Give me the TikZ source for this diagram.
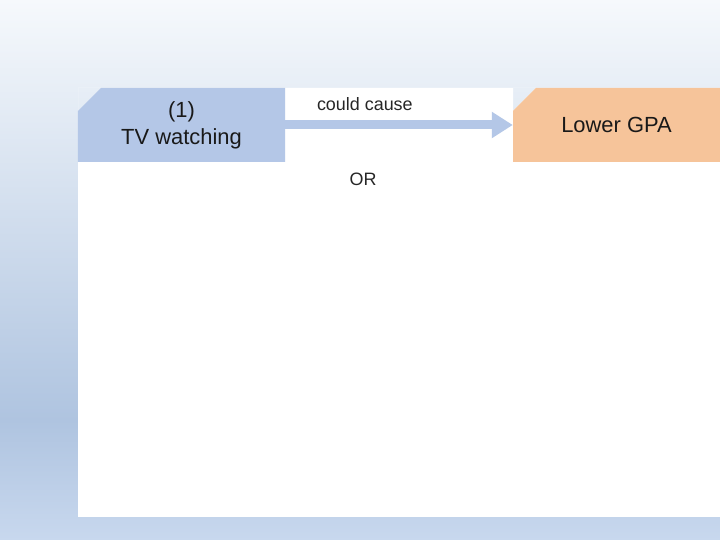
\documentclass[tikz,border=0pt]{standalone}
\usepackage{fontspec}
\setmainfont{Liberation Sans}
\usetikzlibrary{arrows.meta,positioning}
\definecolor{boxblue}{HTML}{B4C7E7}
\definecolor{boxorange}{HTML}{F6C49A}
\definecolor{bgtop}{HTML}{F6F9FC}
\definecolor{bgdeep}{HTML}{AFC4E0}
\definecolor{bgfoot}{HTML}{C8D8EE}
\tikzset{
  chambox/.style={minimum width=207bp, minimum height=74bp, inner sep=0pt,
    align=center, font=\fontsize{22}{27}\selectfont, text=black!90,
    path picture={\fill[#1] ([yshift=-23bp]path picture bounding box.north west)
      -- ([xshift=23bp]path picture bounding box.north west)
      -- (path picture bounding box.north east)
      -- (path picture bounding box.south east)
      -- (path picture bounding box.south west) -- cycle;}},
  smalltext/.style={inner sep=0pt, font=\fontsize{18}{22}\selectfont, text=black!85}
}
\begin{document}
\begin{tikzpicture}[x=1bp,y=1bp]
    \useasboundingbox (0,0) rectangle (720,540);
    % background
    \shade[bottom color=bgfoot, top color=bgdeep] (0,0) rectangle (720,120);
    \shade[bottom color=bgdeep, top color=bgtop] (0,120) rectangle (720,540);
    % white panel, with the two cut corners left open
    \fill[white, even odd rule] (78,23) rectangle (720,452)
      (78,452) -- (101,452) -- (78,429) -- cycle
      (513,452) -- (536,452) -- (513,429) -- cycle;

    \node[chambox=boxblue] (tv) at (181.5,415) {(1)\\TV watching};
    \node[chambox=boxorange] (gpa) at (616.5,415) {Lower GPA};

    \draw[boxblue, line width=9bp, -{Triangle[length=21bp,width=25bp]}]
      (tv.east) -- (gpa.west) node[smalltext, pos=0.35, above=10bp] (cause) {could cause};
    \node[smalltext, anchor=base] (or) at (363,354) {OR};
\end{tikzpicture}
\end{document}
